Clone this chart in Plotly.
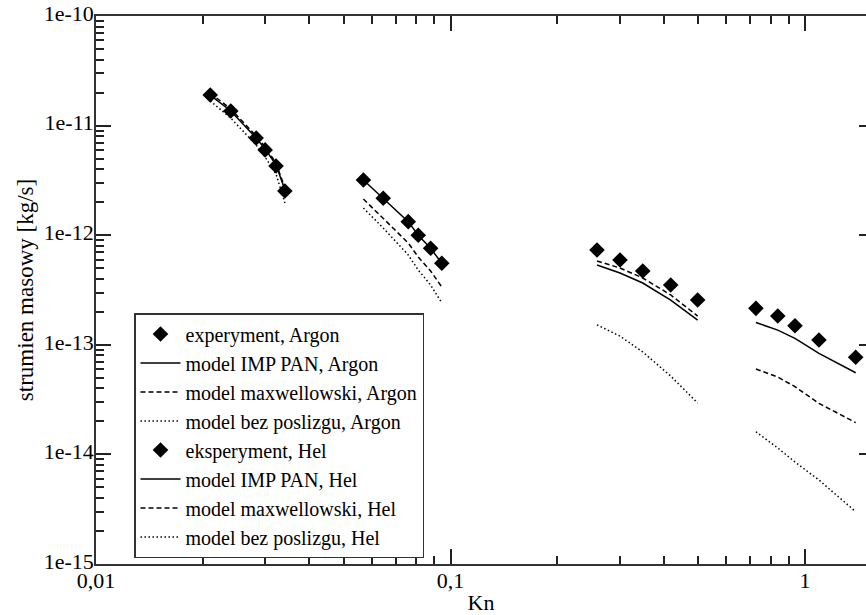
import plotly.graph_objects as go

# ---- data ----
# Argon, low-Kn group
ar1_kn = [0.0210, 0.0240, 0.0283, 0.0300, 0.0322, 0.0341]
ar1_exp = [1.90e-11, 1.36e-11, 7.7e-12, 6.0e-12, 4.28e-12, 2.53e-12]
ar1_imp = [1.90e-11, 1.36e-11, 7.7e-12, 6.12e-12, 4.38e-12, 2.60e-12]
ar1_max = [1.98e-11, 1.42e-11, 8.04e-12, 6.38e-12, 4.56e-12, 2.70e-12]
ar1_bez = [1.68e-11, 1.17e-11, 6.65e-12, 5.17e-12, 3.62e-12, 1.97e-12]
# Argon, high-Kn group
ar2_kn = [0.0568, 0.0646, 0.0760, 0.0811, 0.0879, 0.0945]
ar2_exp = [3.19e-12, 2.17e-12, 1.33e-12, 1.00e-12, 7.6e-13, 5.54e-13]
ar2_imp = [3.19e-12, 2.17e-12, 1.33e-12, 1.00e-12, 7.6e-13, 5.54e-13]
ar2_max = [2.14e-12, 1.435e-12, 8.49e-13, 6.33e-13, 4.71e-13, 3.37e-13]
ar2_bez = [1.77e-12, 1.163e-12, 6.6e-13, 4.81e-13, 3.51e-13, 2.41e-13]
# Hel, low-Kn group
he1_kn = [0.259, 0.3007, 0.3486, 0.418, 0.498]
he1_exp = [7.33e-13, 5.94e-13, 4.71e-13, 3.51e-13, 2.56e-13]
he1_imp = [5.35e-13, 4.52e-13, 3.66e-13, 2.56e-13, 1.68e-13]
he1_max = [5.82e-13, 5.02e-13, 4.07e-13, 2.85e-13, 1.83e-13]
he1_bez = [1.52e-13, 1.20e-13, 8.6e-14, 5.19e-14, 2.94e-14]
# Hel, high-Kn group
he2_kn = [0.727, 0.838, 0.937, 1.095, 1.39]
he2_exp = [2.15e-13, 1.83e-13, 1.49e-13, 1.106e-13, 7.69e-14]
he2_imp = [1.60e-13, 1.36e-13, 1.146e-13, 8.36e-14, 5.56e-14]
he2_max = [6.01e-14, 5.08e-14, 4.15e-14, 2.92e-14, 1.95e-14]
he2_bez = [1.61e-14, 1.144e-14, 8.52e-15, 5.84e-15, 3.0e-15]

x_tickvals = [0.01, 0.1, 1]
x_ticktext = ["0,01", "0,1", "1"]
y_tickvals = [1e-15, 1e-14, 1e-13, 1e-12, 1e-11, 1e-10]
y_ticktext = ["1e-15", "1e-14", "1e-13", "1e-12", "1e-11", "1e-10"]

# minor (2..9) ticks per decade
x_minor = [m * d for d in (0.01, 0.1, 1) for m in range(2, 10)]
y_minor = [m * d for d in (1e-15, 1e-14, 1e-13, 1e-12, 1e-11) for m in range(2, 10)]


def join(a, b):
    return list(a) + [None] + list(b)


FONT = "Liberation Serif, Times New Roman, serif"
DASH = "5px,3px"
DOT = "1.5px,2.5px"
fig = go.Figure()

series = [
    ("experyment, Argon", ar1_kn, ar2_kn, ar1_exp, ar2_exp, "markers", None),
    ("model IMP PAN, Argon", ar1_kn, ar2_kn, ar1_imp, ar2_imp, "lines", "solid"),
    ("model maxwellowski, Argon", ar1_kn, ar2_kn, ar1_max, ar2_max, "lines", DASH),
    ("model bez poslizgu, Argon", ar1_kn, ar2_kn, ar1_bez, ar2_bez, "lines", DOT),
    ("eksperyment, Hel", he1_kn, he2_kn, he1_exp, he2_exp, "markers", None),
    ("model IMP PAN, Hel", he1_kn, he2_kn, he1_imp, he2_imp, "lines", "solid"),
    ("model maxwellowski, Hel", he1_kn, he2_kn, he1_max, he2_max, "lines", DASH),
    ("model bez poslizgu, Hel", he1_kn, he2_kn, he1_bez, he2_bez, "lines", DOT),
]
for name, xa, xb, ya, yb, mode, dash in series:
    if mode == "markers":
        fig.add_trace(go.Scatter(
            x=join(xa, xb), y=join(ya, yb), mode="markers", name=name,
            marker=dict(symbol="diamond", size=12, color="black"),
        ))
    else:
        fig.add_trace(go.Scatter(
            x=join(xa, xb), y=join(ya, yb), mode="lines", name=name,
            connectgaps=False,
            line=dict(color="black", width=1.5, dash=dash),
        ))

# invisible helper so the right-hand tick axis is drawn
fig.add_trace(go.Scatter(x=[0.01], y=[1e-15], yaxis="y2", showlegend=False,
                         hoverinfo="skip", mode="markers", marker=dict(opacity=0)))

x_right = 0.1721  # log10 of the Kn value at the right edge of the picture
TC = "#222"

fig.update_layout(
    width=866, height=615,
    margin=dict(l=96, r=0, t=16, b=51),
    paper_bgcolor="white", plot_bgcolor="white",
    font=dict(family=FONT, color="black", size=22),
    showlegend=True,
    legend=dict(
        x=(134 - 96) / 770, y=(564 - 313) / 548, xanchor="left", yanchor="top",
        bordercolor="#333", borderwidth=1.5, bgcolor="white",
        font=dict(family=FONT, size=20, color="black"),
        tracegroupgap=0, itemwidth=40,
    ),
    xaxis=dict(
        type="log", range=[-2, x_right], automargin=False,
        tickmode="array", tickvals=x_tickvals, ticktext=x_ticktext,
        ticks="inside", ticklen=15, tickwidth=1.5, tickcolor=TC,
        minor=dict(tickmode="array", tickvals=x_minor, ticks="inside",
                   ticklen=8, tickwidth=1.5, tickcolor=TC, showgrid=False),
        showline=True, linecolor="#333", linewidth=1.5, mirror="ticks",
        showgrid=False, zeroline=False, ticklabelstandoff=-4,
        tickfont=dict(family=FONT, size=22, color="black"),
        title=dict(text="Kn", font=dict(family=FONT, size=22, color="black"), standoff=6),
    ),
    yaxis=dict(
        type="log", range=[-15, -10], automargin=False,
        tickmode="array", tickvals=y_tickvals, ticktext=y_ticktext,
        ticks="inside", ticklen=15, tickwidth=1.5, tickcolor=TC,
        minor=dict(tickmode="array", tickvals=y_minor, ticks="inside",
                   ticklen=8, tickwidth=1.5, tickcolor=TC, showgrid=False),
        showline=True, linecolor="#333", linewidth=1.5,
        showgrid=False, zeroline=False, ticklabelstandoff=-4, ticklabelshift=-3,
        tickfont=dict(family=FONT, size=22, color="black"),
        title=dict(text="strumien masowy [kg/s]", font=dict(family=FONT, size=23, color="black"), standoff=4),
    ),
    yaxis2=dict(
        type="log", range=[-15, -10], overlaying="y", side="right", anchor="x",
        automargin=False,
        tickmode="array", tickvals=y_tickvals, ticks="inside", ticklen=7,
        tickwidth=1.5, tickcolor=TC,
        showticklabels=False, showline=False, showgrid=False, zeroline=False,
    ),
)

fig.write_html(
    "out.html",
    config={"displayModeBar": False},
    post_script="document.body.style.margin='0';document.body.style.overflow='hidden';",
)
